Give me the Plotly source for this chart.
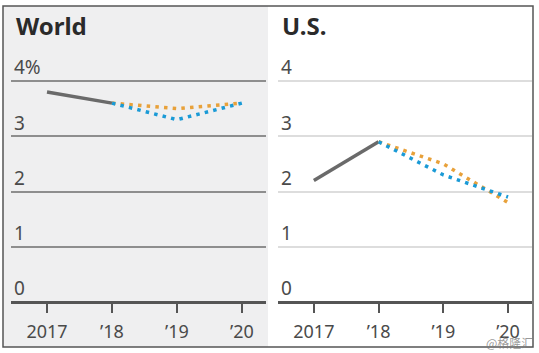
import plotly.graph_objects as go

years_actual = [2017, 2018]
years_fcst = [2018, 2019, 2020]
tick_years = [2017, 2018, 2019, 2020]
tick_text = ["2017", "\u201918", "\u201919", "\u201920"]

world_actual = [3.8, 3.6]
world_jan = [3.6, 3.5, 3.6]
world_apr = [3.6, 3.3, 3.6]

us_actual = [2.2, 2.9]
us_jan = [2.9, 2.5, 1.8]
us_apr = [2.9, 2.3, 1.9]

y_ticks = [0, 1, 2, 3, 4]
y_text_world = ["0", "1", "2", "3", "4%"]
y_text_us = ["0", "1", "2", "3", "4"]

W, H = 539, 353
GRAY = "#6a6a6a"
ORANGE = "#e8a13a"
BLUE = "#1a9ad6"
DASH = "3.5px,5.2px"
FONT = "Noto Sans, Open Sans, sans-serif"

fig = go.Figure()

def add_panel(xa, ya, actual, jan, apr):
    fig.add_trace(go.Scatter(x=years_actual, y=actual, mode="lines",
                             line=dict(color=GRAY, width=3.5), xaxis=xa, yaxis=ya,
                             showlegend=False, hoverinfo="skip"))
    fig.add_trace(go.Scatter(x=years_fcst, y=jan, mode="lines",
                             line=dict(color=ORANGE, width=3.5, dash=DASH), xaxis=xa, yaxis=ya,
                             showlegend=False, hoverinfo="skip"))
    fig.add_trace(go.Scatter(x=years_fcst, y=apr, mode="lines",
                             line=dict(color=BLUE, width=3.5, dash=DASH), xaxis=xa, yaxis=ya,
                             showlegend=False, hoverinfo="skip"))

add_panel("x", "y", world_actual, world_jan, world_apr)
add_panel("x2", "y2", us_actual, us_jan, us_apr)

YMAX = 4.7
ydom = [(H - 302) / H, (H - (302 - YMAX * 55.25)) / H]
font_tick = dict(family=FONT, size=18, color="#4a4a4a")

def xaxis_cfg(domain, anchor):
    return dict(domain=domain, anchor=anchor, range=[2016.446, 2020.37],
                tickvals=tick_years, ticktext=tick_text, ticks="outside",
                ticklen=10, tickwidth=2, tickcolor="#555", showgrid=False,
                zeroline=False, showline=False, tickfont=font_tick,
                ticklabelstandoff=3, fixedrange=True)

def yaxis_cfg(anchor, text, gridcolor, gridwidth):
    return dict(domain=ydom, anchor=anchor, range=[0, YMAX], tickvals=y_ticks,
                ticktext=text, ticklabelposition="inside top", ticks="",
                showgrid=True, gridcolor=gridcolor, gridwidth=gridwidth,
                zeroline=True, zerolinecolor="#555", zerolinewidth=2.5,
                showline=False, tickfont=dict(family=FONT, size=19, color="#4a4a4a"),
                fixedrange=True)

fig.update_layout(
    width=W, height=H, margin=dict(l=0, r=0, t=0, b=0),
    paper_bgcolor="white", plot_bgcolor="rgba(0,0,0,0)",
    xaxis=xaxis_cfg([11 / W, 266 / W], "y"),
    yaxis=yaxis_cfg("x", y_text_world, "#8e8e8e", 2),
    xaxis2=xaxis_cfg([278 / W, 532 / W], "y2"),
    yaxis2=yaxis_cfg("x2", y_text_us, "#dddddd", 1.5),
    shapes=[
        dict(type="rect", xref="paper", yref="paper", x0=3 / W, x1=268 / W,
             y0=(H - 347) / H, y1=(H - 6) / H, fillcolor="#efeff0", line_width=0, layer="below"),
        dict(type="rect", xref="paper", yref="paper", x0=3 / W, x1=533 / W,
             y0=(H - 347) / H, y1=(H - 6) / H, fillcolor="rgba(0,0,0,0)",
             line=dict(color="#555", width=1.5), layer="above"),
    ],
    annotations=[
        dict(text="<b>World</b>", x=14 / W, y=(H - 25) / H, xref="paper", yref="paper",
             xanchor="left", yanchor="middle", showarrow=False,
             font=dict(family=FONT, size=24, color="#2a2a2a")),
        dict(text="<b>U.S.</b>", x=280 / W, y=(H - 25) / H, xref="paper", yref="paper",
             xanchor="left", yanchor="middle", showarrow=False,
             font=dict(family=FONT, size=24, color="#2a2a2a")),
        dict(text="@格隆汇", x=535 / W, y=(H - 342) / H, xref="paper", yref="paper",
             xanchor="right", yanchor="middle", showarrow=False,
             font=dict(family="Noto Sans CJK SC", size=12, color="rgba(120,120,120,0.75)")),
    ],
)

fig.write_html("out.html")
